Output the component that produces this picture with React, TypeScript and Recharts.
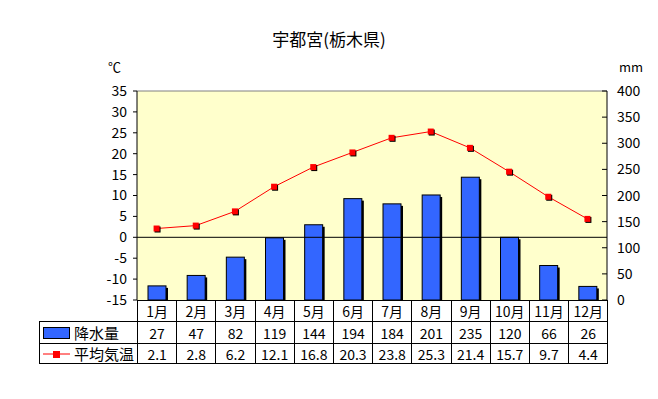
import {
    ComposedChart,
    Bar,
    Line,
    XAxis,
    YAxis,
    CartesianGrid,
    ReferenceLine,
} from "recharts";

// Utsunomiya climate normals
const months = ["1月", "2月", "3月", "4月", "5月", "6月", "7月", "8月", "9月", "10月", "11月", "12月"];
const precipitation = [27, 47, 82, 119, 144, 194, 184, 201, 235, 120, 66, 26];
const temperature = [2.1, 2.8, 6.2, 12.1, 16.8, 20.3, 23.8, 25.3, 21.4, 15.7, 9.7, 4.4];
const tempTicks = [-15, -10, -5, 0, 5, 10, 15, 20, 25, 30, 35];
const rainTicks = [0, 50, 100, 150, 200, 250, 300, 350, 400];

const data = months.map((m, i) => ({
    month: m,
    rain: precipitation[i],
    temp: temperature[i],
}));

const FONT = "'Noto Sans CJK JP', 'Noto Sans', sans-serif";
const BAR_BLUE = "#3366FF";

// bar with a black drop shadow
const ShadowBar = (props: any) => {
    const { x, y, width, height } = props;
    if (!height || height <= 0) return null;
    return (
        <g>
            <rect x={x + 2} y={y + 2} width={width} height={Math.max(height - 2, 0)} fill="#000" />
            <rect x={x} y={y} width={width} height={height} fill={BAR_BLUE} stroke="#000" strokeWidth={1} />
        </g>
    );
};

// square marker with shadow
const SquareDot = (props: any) => {
    const { cx, cy, index } = props;
    return (
        <g key={index}>
            <rect x={cx - 2} y={cy - 2} width={6} height={6} fill="#000" />
            <rect x={cx - 3} y={cy - 3} width={6} height={6} fill="#FF0000" />
        </g>
    );
};

const RightTick = (props: any) => {
    const { x, y, payload } = props;
    return (
        <g>
            <line x1={x - 15} x2={x - 10} y1={y} y2={y} stroke="#000" />
            <text x={x} y={y} dy={5} fontSize={14} fontFamily={FONT} fill="#000">
                {payload.value}
            </text>
        </g>
    );
};

const cell: any = {
    border: "1px solid #000",
    textAlign: "center",
    padding: 0,
    fontSize: 14,
    fontFamily: FONT,
    color: "#000",
    lineHeight: "18px",
};

export default function App() {
    return (
        <div style={{ position: "absolute", left: 0, top: 0, width: 658, height: 399, background: "#fff" }}>
            <div
                style={{
                    position: "absolute",
                    left: 0,
                    width: 658,
                    top: 26,
                    textAlign: "center",
                    fontFamily: FONT,
                    fontSize: 17,
                }}
            >
                宇都宮(栃木県)
            </div>
            <div style={{ position: "absolute", left: 108, top: 57, fontFamily: FONT, fontSize: 13 }}>℃</div>
            <div style={{ position: "absolute", left: 619, top: 57, fontFamily: FONT, fontSize: 13 }}>mm</div>

            <ComposedChart
                width={658}
                height={399}
                data={data}
                margin={{ top: 91, right: 0, bottom: 99, left: 0 }}
                barCategoryGap={0}
            >
                <CartesianGrid fill="#FFFFCC" horizontal={false} vertical={false} yAxisId="left" />
                <XAxis dataKey="month" hide />
                <YAxis
                    yAxisId="left"
                    orientation="left"
                    width={137}
                    domain={[-15, 35]}
                    ticks={tempTicks}
                    interval={0}
                    tickSize={4}
                    tickMargin={6}
                    stroke="#000"
                    tick={{ fontSize: 14, fontFamily: FONT, fill: "#000" }}
                />
                <YAxis
                    yAxisId="right"
                    orientation="right"
                    width={51}
                    domain={[0, 400]}
                    ticks={rainTicks}
                    interval={0}
                    tickLine={false}
                    tickSize={0}
                    tickMargin={10}
                    stroke="#000"
                    tick={<RightTick />}
                />
                <ReferenceLine yAxisId="left" y={35} stroke="#808080" />
                <ReferenceLine yAxisId="left" y={0} stroke="#000" />
                <Bar
                    yAxisId="right"
                    dataKey="rain"
                    barSize={18}
                    shape={<ShadowBar />}
                    isAnimationActive={false}
                />
                <Line
                    yAxisId="left"
                    dataKey="temp"
                    stroke="#FF0000"
                    strokeWidth={1}
                    dot={<SquareDot />}
                    activeDot={false}
                    isAnimationActive={false}
                />
            </ComposedChart>

            <table
                style={{
                    position: "absolute",
                    left: 39,
                    top: 300,
                    borderCollapse: "collapse",
                    tableLayout: "fixed",
                    width: 569,
                }}
            >
                <colgroup>
                    <col style={{ width: 98 }} />
                    {months.map((m) => (
                        <col key={m} style={{ width: 39.2 }} />
                    ))}
                </colgroup>
                <tbody>
                    <tr style={{ height: 21 }}>
                        <td style={{ ...cell, border: "none", borderRight: "1px solid #000" }}></td>
                        {months.map((m) => (
                            <td key={m} style={cell}>{m}</td>
                        ))}
                    </tr>
                    <tr style={{ height: 22 }}>
                        <td style={{ ...cell, textAlign: "left" }}>
                            <span style={{ display: "inline-flex", alignItems: "center", gap: 4, paddingLeft: 3 }}>
                                <span
                                    style={{
                                        display: "inline-block",
                                        width: 25,
                                        height: 10,
                                        background: BAR_BLUE,
                                        border: "1px solid #000",
                                    }}
                                />
                                <span style={{ fontSize: 15 }}>降水量</span>
                            </span>
                        </td>
                        {precipitation.map((v, i) => (
                            <td key={i} style={cell}>{v}</td>
                        ))}
                    </tr>
                    <tr style={{ height: 20 }}>
                        <td style={{ ...cell, textAlign: "left" }}>
                            <span style={{ display: "inline-flex", alignItems: "center", gap: 4, paddingLeft: 3 }}>
                                <svg width={27} height={10}>
                                    <line x1={0} x2={27} y1={5} y2={5} stroke="#FF0000" />
                                    <rect x={10} y={2} width={7} height={7} fill="#FF0000" />
                                </svg>
                                <span style={{ fontSize: 15 }}>平均気温</span>
                            </span>
                        </td>
                        {temperature.map((v, i) => (
                            <td key={i} style={cell}>{v.toFixed(1)}</td>
                        ))}
                    </tr>
                </tbody>
            </table>
        </div>
    );
}
